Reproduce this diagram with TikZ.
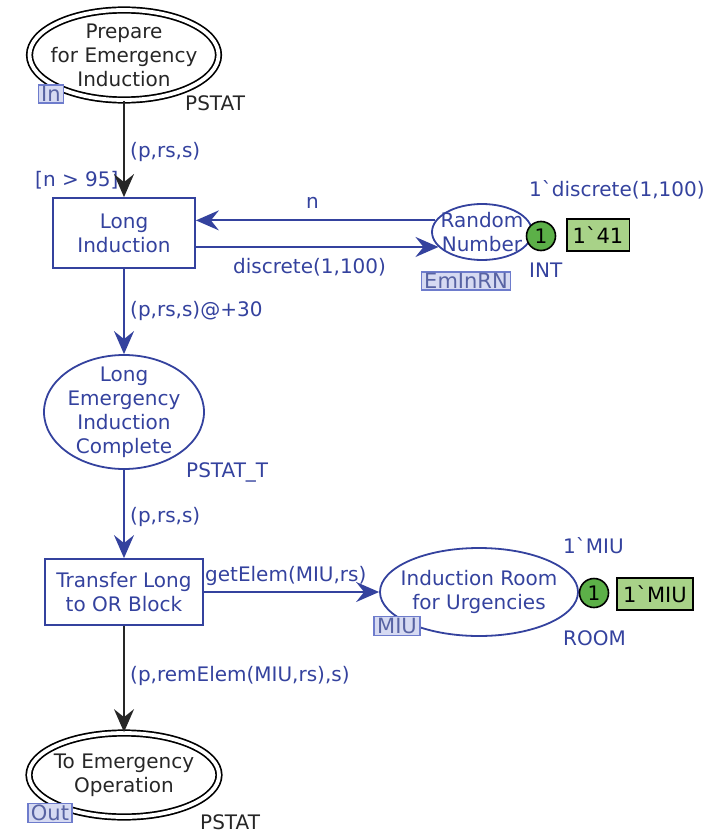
\documentclass[tikz,border=0pt]{standalone}
\usepackage{fontspec}
\newfontfamily\cpn{DejaVu Sans}
\usetikzlibrary{shapes.geometric,arrows.meta}
\definecolor{netblue}{RGB}{52,66,158}
\definecolor{tagfill}{RGB}{214,218,242}
\definecolor{tagline}{RGB}{110,124,204}
\definecolor{tokgreen}{RGB}{92,176,72}
\definecolor{boxgreen}{RGB}{168,210,136}
\begin{document}
\begin{tikzpicture}[x=1pt,y=-1pt,
  font=\cpn\fontsize{20}{24}\selectfont,
  tr/.style={rectangle, draw=netblue, line width=1.8pt, text=netblue, align=center, inner sep=0pt},
  pl/.style={ellipse, draw=netblue, line width=1.8pt, inner sep=0pt},
  port/.style={ellipse, draw=black, line width=1.7pt, double=white, double distance=3.8pt, inner sep=0pt},
  ptxt/.style={align=center, text=netblue},
  btxt/.style={align=center, text=black!85},
  lbl/.style={anchor=west, text=netblue, inner sep=0pt},
  blbl/.style={anchor=west, text=black!85, inner sep=0pt},
  tag/.style={rectangle, fill=tagfill, draw=tagline, line width=1.4pt, text=tagline!80!black, inner xsep=3pt, inner ysep=1.5pt, font=\cpn\fontsize{21}{22}\selectfont},
  tok/.style={circle, fill=tokgreen, draw=black, line width=1.6pt, minimum size=29pt, inner sep=0pt},
  markbox/.style={rectangle, fill=boxgreen, draw=black, line width=1.6pt, inner xsep=6pt, minimum height=32pt, font=\cpn\fontsize{21}{22}\selectfont},
  barc/.style={line width=2pt, netblue, -{Stealth[length=23pt,width=20pt,inset=8pt]}},
  karc/.style={line width=2pt, black!85, -{Stealth[length=23pt,width=20pt,inset=8pt]}}]
\useasboundingbox (0,0) rectangle (716,834);

% places and transitions
\node[port, minimum width=189pt, minimum height=90pt,
      label={[btxt]center:Prepare\\for Emergency\\Induction}] (pfei) at (124,55) {};
\node[tr, minimum width=142pt, minimum height=70pt] (li) at (124,233) {Long\\Induction};
\node[pl, minimum width=100pt, minimum height=56pt,
      label={[ptxt]center:Random\\Number}] (rn) at (482,232) {};
\node[pl, minimum width=160pt, minimum height=114pt,
      label={[ptxt]center:Long\\Emergency\\Induction\\Complete}] (leic) at (124,412) {};
\node[tr, minimum width=158pt, minimum height=66pt] (tlor) at (124,592) {Transfer Long\\to OR Block};
\node[pl, minimum width=198pt, minimum height=88pt,
      label={[ptxt]center:Induction Room\\for Urgencies}] (iru) at (479,592) {};
\node[port, minimum width=190pt, minimum height=84pt,
      label={[btxt]center:To Emergency\\Operation}] (teo) at (124,775) {};

% port and fusion tags
\node[tag] (tin) at (51,94) {In};
\node[tag] (tem) at (466,281) {EmInRN};
\node[tag] (tmiu) at (397,626) {MIU};
\node[tag] (tout) at (50,813) {Out};

% colour sets and initial markings
\node[blbl] (cs1) at (185,103) {PSTAT};
\node[lbl] (cs2) at (529,270) {INT};
\node[lbl] (cs3) at (186,472) {PSTAT\_T};
\node[lbl] (cs4) at (563,638) {ROOM};
\node[blbl] (cs5) at (200,822) {PSTAT};
\node[lbl] (im1) at (529,190) {1`discrete(1,100)};
\node[lbl] (im2) at (563,546) {1`MIU};

% current markings
\node[tok] (k1) at (541,236) {1};
\node[markbox] (m1) at (598,235) {1`41};
\node[tok] (k2) at (594,593) {1};
\node[markbox] (m2) at (655,594) {1`MIU};

% guard
\node[lbl] (g1) at (35,180) {[n > 95]};

% arcs
\draw[karc] (pfei.south) -- (li.north);
\draw[barc] (rn.166) -- (rn.166 -| li.east);
\draw[barc] (rn.199 -| li.east) -- (rn.199);
\draw[barc] (li.south) -- (leic.north);
\draw[barc] (leic.south) -- (tlor.north);
\draw[barc] (tlor.east) -- (iru.west);
\draw[karc] (tlor.south) -- (teo.north);

% arc inscriptions
\node[lbl] (a1) at (130,152) {(p,rs,s)};
\node[lbl] (a2) at (306,203) {n};
\node[lbl] (a3) at (233,267) {discrete(1,100)};
\node[lbl] (a4) at (130,311) {(p,rs,s)@+30};
\node[lbl] (a5) at (130,517) {(p,rs,s)};
\node[lbl] (a6) at (205,576) {getElem(MIU,rs)};
\node[lbl] (a7) at (130,676) {(p,remElem(MIU,rs),s)};
\end{tikzpicture}
\end{document}
